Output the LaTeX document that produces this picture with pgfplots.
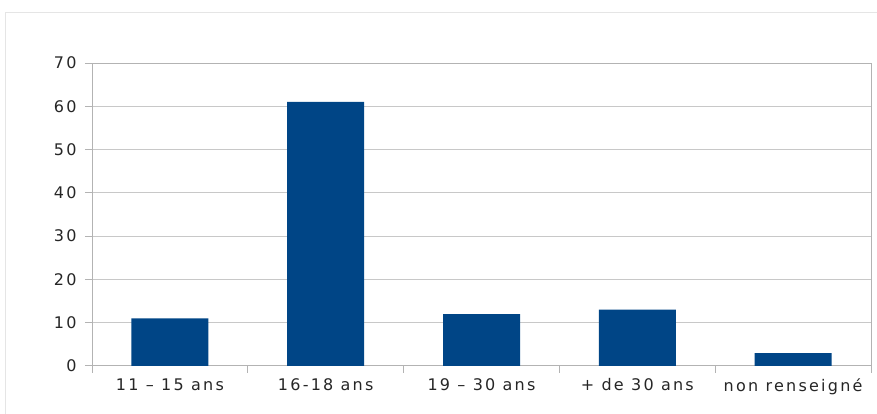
\documentclass[border=0pt]{standalone}
\usepackage{pgfplots}
\pgfplotsset{compat=1.18}
\usepackage{fontspec}
\setmainfont{DejaVu Sans}[LetterSpace=14]
\definecolor{barblue}{HTML}{004586}
\definecolor{gridgray}{HTML}{C8C8C8}
\definecolor{axgray}{HTML}{B3B3B3}
\begin{document}
\begin{tikzpicture}
\path[use as bounding box] (0,0) rectangle (877pt,414pt);
\draw[black!10, line width=1pt] (5pt,0) -- (5pt,401pt) -- (877pt,401pt);
\begin{axis}[
  at={(92pt,48pt)}, anchor=south west,
  scale only axis, width=779pt, height=303pt,
  xmin=-0.5, xmax=4.5, ymin=0, ymax=70,
  ytick={0,10,...,70},
  xtick={0,1,2,3,4},
  xticklabels={11 -- 15 ans,16-18 ans,19 -- 30 ans,+ de 30 ans,non renseign\'e},
  minor xtick={-0.5,0.5,...,4.5},
  major x tick style={draw=none},
  minor tick length=7pt,
  major tick length=7pt,
  tick align=outside,
  xtick pos=bottom, ytick pos=left,
  tick style={axgray, line width=1pt},
  ymajorgrids, grid style={gridgray, line width=1pt},
  axis line style={axgray, line width=1pt},
  ticklabel style={font=\fontsize{16}{19}\selectfont, text=black!85},
  /pgf/number format/assume math mode=true,
  yticklabel style={xshift=-5pt},
  xticklabel style={yshift=-2pt},
  ybar, bar width=77pt,
]
\addplot[fill=barblue, draw=none] coordinates {(0,11) (1,61) (2,12) (3,13) (4,3)};
\draw[axgray, line width=2.5pt] (axis cs:-0.5,0) -- (axis cs:-0.5,70);
\end{axis}
\end{tikzpicture}
\end{document}
